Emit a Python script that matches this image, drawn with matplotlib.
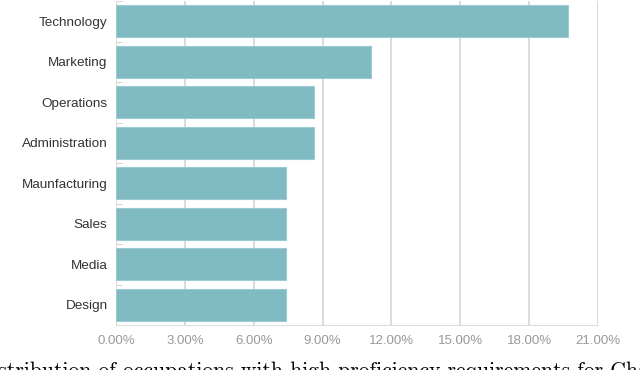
import matplotlib.pyplot as plt
from matplotlib.ticker import PercentFormatter, MultipleLocator

categories = ['Technology', 'Marketing', 'Operations', 'Administration',
              'Maunfacturing', 'Sales', 'Media', 'Design']
shares = [19.7, 11.1, 8.62, 8.62, 7.4, 7.4, 7.4, 7.4]
caption = 'Distribution of occupations with high proficiency requirements for ChatGPT'

fig = plt.figure(figsize=(6.4, 3.7), dpi=100)
ax = fig.add_axes([116 / 640, 1 - 325 / 370, (598 - 116) / 640, 324 / 370])

ypos = range(len(categories))
ax.barh(ypos, shares, height=0.78, color='#80bac3', edgecolor='#9ccbd2', linewidth=0.8, zorder=2)
ax.set_ylim(len(categories) - 0.5, -0.5)
ax.set_yticks(list(ypos))
ax.set_yticklabels(categories, family='Liberation Sans', fontsize=9.7, color='#333333')
ax.set_yticks([i - 0.5 for i in ypos], minor=True)
ax.tick_params(axis='y', which='major', length=0, pad=6)
ax.tick_params(axis='y', which='minor', length=4, color='#cccccc', direction='in')

ax.set_xlim(0, 21)
ax.xaxis.set_major_locator(MultipleLocator(3))
ax.xaxis.set_major_formatter(PercentFormatter(decimals=2))
ax.tick_params(axis='x', length=0, pad=7, labelcolor='#999999', labelsize=9.5)
for lab in ax.get_xticklabels():
    lab.set_family('Liberation Sans')
ax.grid(axis='x', color='#d4d4d4', linewidth=1.2, zorder=0)

for s in ['top', 'right', 'left']:
    ax.spines[s].set_visible(False)
ax.spines['bottom'].set_color('#dddddd')

# caption runs off the edges in the original, so it's cut the same way here
fig.text(-24 / 640, -7 / 370, caption, family='cmr10', fontsize=15.5, ha='left', va='baseline')

fig.savefig('out.png', dpi=100)
